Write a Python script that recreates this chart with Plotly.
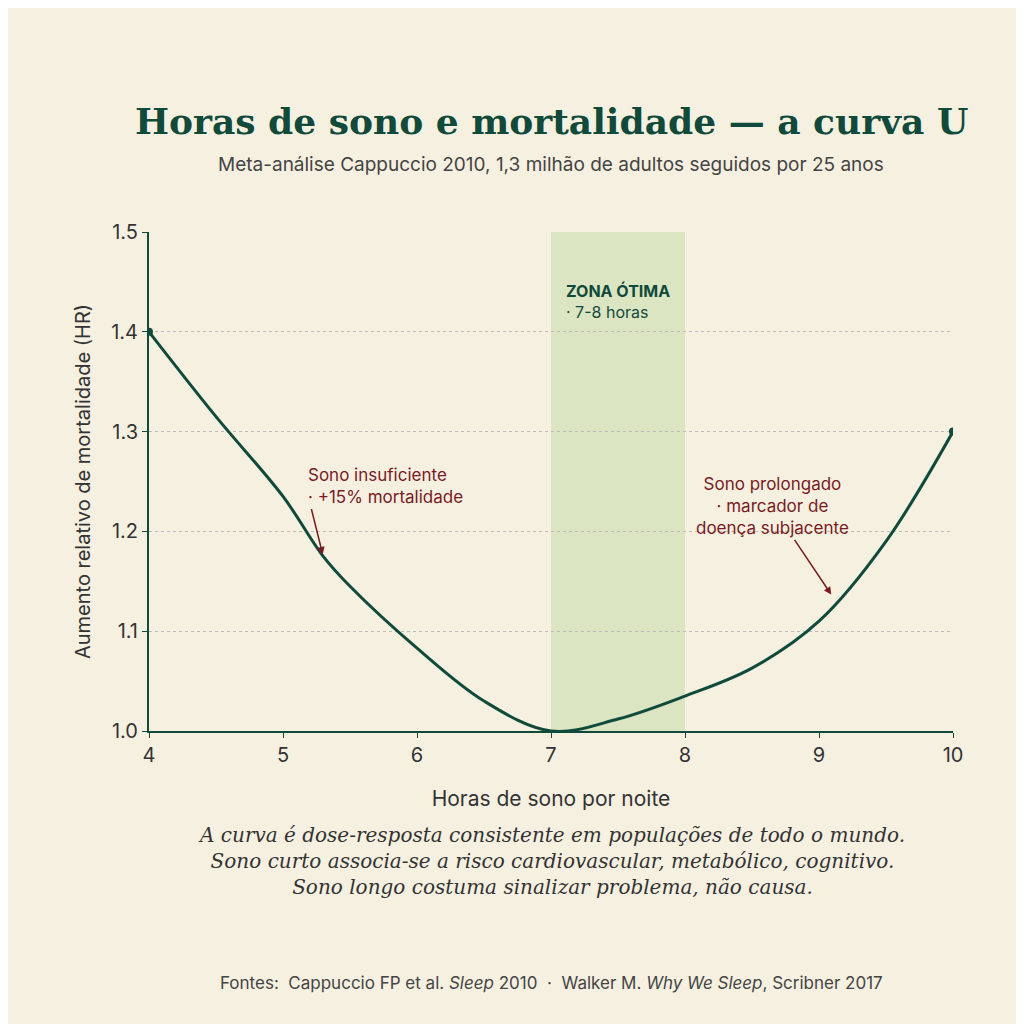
import plotly.graph_objects as go

hours = [4, 4.5, 5, 5.3, 5.5, 6, 6.5, 7, 7.5, 8, 8.5, 9, 9.5, 10]
hr = [1.40, 1.315, 1.235, 1.175, 1.145, 1.083, 1.03, 1.0, 1.012, 1.035, 1.063, 1.11, 1.19, 1.30]
yticks = [1.0, 1.1, 1.2, 1.3, 1.4, 1.5]
xticks = [4, 5, 6, 7, 8, 9, 10]

green = "#0f4a3a"
red = "#7a1a22"
bg = "#f6f0e1"

fig = go.Figure()
fig.add_vrect(x0=7, x1=8, fillcolor="#d9e3bf", opacity=0.9, line_width=0, layer="below")
fig.add_trace(go.Scatter(x=hours, y=hr, mode="lines", line=dict(color=green, width=3, shape="spline"),
                         hoverinfo="skip"))
fig.add_trace(go.Scatter(x=[hours[0], hours[-1]], y=[hr[0], hr[-1]], mode="markers",
                         marker=dict(color=green, size=8), hoverinfo="skip"))

fig.add_annotation(x=7.5, y=1.43, text="<b>ZONA ÓTIMA</b><br>· 7-8 horas", showarrow=False,
                   font=dict(color=green, size=16), align="left")
fig.add_annotation(x=5.3, y=1.175, ax=5.17, ay=1.245, axref="x", ayref="y",
                   text="Sono insuficiente<br>· +15% mortalidade", showarrow=True,
                   arrowhead=2, arrowcolor=red, arrowwidth=1.5, font=dict(color=red, size=17),
                   align="left", xanchor="left", yanchor="middle", standoff=2)
fig.add_annotation(x=9.1, y=1.135, ax=8.65, ay=1.225, axref="x", ayref="y",
                   text="Sono prolongado<br>· marcador de<br>doença subjacente", showarrow=True,
                   arrowhead=2, arrowcolor=red, arrowwidth=1.5, font=dict(color=red, size=17),
                   align="center", standoff=2)

fig.add_annotation(x=0.5, y=1.268, xref="paper", yref="paper", showarrow=False,
                   text="<b>Horas de sono e mortalidade — a curva U</b>",
                   font=dict(family="DejaVu Serif", size=36, color=green))
fig.add_annotation(x=0.5, y=1.162, xref="paper", yref="paper", showarrow=False,
                   text="Meta-análise Cappuccio 2010, 1,3 milhão de adultos seguidos por 25 anos",
                   font=dict(size=19, color="#444"))
fig.add_annotation(x=0.5, y=-0.34, xref="paper", yref="paper", showarrow=False,
                   text="<i>A curva é dose-resposta consistente em populações de todo o mundo.<br>"
                        "Sono curto associa-se a risco cardiovascular, metabólico, cognitivo.<br>"
                        "Sono longo costuma sinalizar problema, não causa.</i>",
                   font=dict(family="DejaVu Serif", size=20, color="#333"), align="center")
fig.add_annotation(x=0.5, y=-0.53, xref="paper", yref="paper", showarrow=False,
                   text="Fontes:  Cappuccio FP et al. <i>Sleep</i> 2010  ·  Walker M. <i>Why We Sleep</i>, Scribner 2017",
                   font=dict(size=17, color="#444"))

fig.update_xaxes(range=[4, 10], tickvals=xticks, showgrid=False, showline=True, linecolor=green,
                 linewidth=2, ticks="outside", tickcolor=green, tickfont=dict(size=20, color="#333"),
                 title=dict(text="Horas de sono por noite", font=dict(size=21, color="#333"), standoff=25),
                 zeroline=False)
fig.update_yaxes(range=[1.0, 1.5], tickvals=yticks, tickformat=".1f", showgrid=True, gridcolor="#bbb",
                 griddash="dot", showline=True, linecolor=green, linewidth=2, ticks="outside",
                 tickcolor=green, tickfont=dict(size=20, color="#333"),
                 title=dict(text="Aumento relativo de mortalidade (HR)", font=dict(size=20, color="#333")),
                 zeroline=False)
fig.update_layout(width=1024, height=1024, paper_bgcolor=bg, plot_bgcolor=bg, showlegend=False,
                  margin=dict(l=141, r=79, t=224, b=301), font=dict(family="Inter"))
fig.write_html("out.html")
